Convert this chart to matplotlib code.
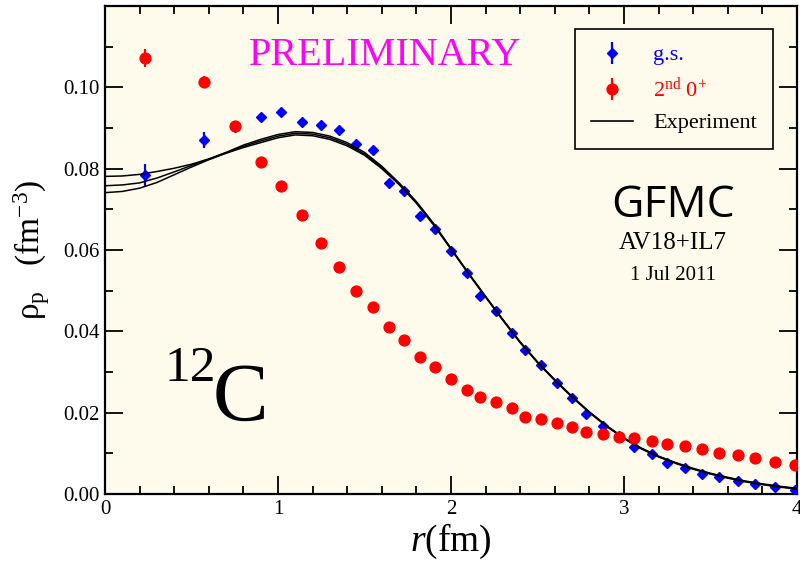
import matplotlib
matplotlib.use("Agg")
import matplotlib.pyplot as plt
from matplotlib.ticker import MultipleLocator, FormatStrFormatter
from matplotlib.lines import Line2D

plt.rcParams['font.family'] = ['Liberation Serif', 'DejaVu Serif']
plt.rcParams['mathtext.fontset'] = 'custom'
plt.rcParams['mathtext.rm'] = 'Liberation Serif'
plt.rcParams['mathtext.it'] = 'Liberation Serif:italic'

# ---- data ----
r_calc = [0.23, 0.57, 0.75, 0.90, 1.02, 1.14, 1.25, 1.35, 1.45, 1.55, 1.64, 1.73,
          1.82, 1.91, 2.00, 2.09, 2.17, 2.26, 2.35, 2.43, 2.52, 2.61, 2.70, 2.78,
          2.88, 2.97, 3.06, 3.16, 3.25, 3.35, 3.45, 3.55, 3.66, 3.76, 3.87, 3.99]
rho_gs = [0.0785, 0.0870, 0.0903, 0.0927, 0.0940, 0.0915, 0.0908, 0.0895, 0.0861,
          0.0846, 0.0764, 0.0744, 0.0683, 0.0651, 0.0597, 0.0543, 0.0486, 0.0451,
          0.0397, 0.0353, 0.0316, 0.0274, 0.0235, 0.0197, 0.0167, 0.0143, 0.0115,
          0.0098, 0.0077, 0.0064, 0.0049, 0.0041, 0.0031, 0.0024, 0.0016, 0.0011]
err_gs = [0.0027, 0.0020, 0.0008, 0.0007, 0.0006, 0.0006, 0.0005, 0.0005, 0.0005,
          0.0005, 0.0004, 0.0004, 0.0004, 0.0004, 0.0003, 0.0003, 0.0003, 0.0003,
          0.0003, 0.0003, 0.0002, 0.0002, 0.0002, 0.0002, 0.0002, 0.0002, 0.0002,
          0.0002, 0.0001, 0.0001, 0.0001, 0.0001, 0.0001, 0.0001, 0.0001, 0.0001]
rho_02 = [0.1073, 0.1014, 0.0905, 0.0816, 0.0757, 0.0685, 0.0616, 0.0559, 0.0498,
          0.0461, 0.0411, 0.0379, 0.0337, 0.0313, 0.0283, 0.0256, 0.0239, 0.0226,
          0.0211, 0.0189, 0.0184, 0.0174, 0.0164, 0.0152, 0.0147, 0.0140, 0.0137,
          0.0130, 0.0122, 0.0117, 0.0110, 0.0100, 0.0095, 0.0088, 0.0078, 0.0071]
err_02 = [0.0022, 0.0015, 0.0008, 0.0007, 0.0006, 0.0006, 0.0005, 0.0005, 0.0005,
          0.0005, 0.0004, 0.0004, 0.0004, 0.0004, 0.0003, 0.0003, 0.0003, 0.0003,
          0.0003, 0.0003, 0.0002, 0.0002, 0.0002, 0.0002, 0.0002, 0.0002, 0.0002,
          0.0002, 0.0001, 0.0001, 0.0001, 0.0001, 0.0001, 0.0001, 0.0001, 0.0001]

r_exp = [0.0, 0.1, 0.2, 0.3, 0.4, 0.5, 0.6, 0.7, 0.8, 0.9, 1.0, 1.1, 1.2, 1.3, 1.4,
         1.5, 1.6, 1.7, 1.8, 1.9, 2.0, 2.1, 2.2, 2.3, 2.4, 2.5, 2.6, 2.7, 2.8, 2.9,
         3.0, 3.1, 3.2, 3.3, 3.4, 3.5, 3.6, 3.7, 3.8, 3.9, 4.0]
rho_exp_hi = [0.0781, 0.0782, 0.0786, 0.0793, 0.0801, 0.0811, 0.0824, 0.0840, 0.0858,
              0.0872, 0.0884, 0.0891, 0.0889, 0.0880, 0.0864, 0.0840, 0.0806, 0.0765,
              0.0719, 0.0665, 0.0604, 0.0544, 0.0486, 0.0429, 0.0374, 0.0325, 0.0281,
              0.0240, 0.0202, 0.0168, 0.0138, 0.0113, 0.0093, 0.0077, 0.0063, 0.0051,
              0.0041, 0.0032, 0.0025, 0.0019, 0.0014]
rho_exp_mid = [0.0758, 0.0760, 0.0765, 0.0777, 0.0792, 0.0808, 0.0823, 0.0839, 0.0855,
               0.0868, 0.0880, 0.0887, 0.0885, 0.0876, 0.0860, 0.0836, 0.0803, 0.0763,
               0.0717, 0.0663, 0.0603, 0.0543, 0.0485, 0.0428, 0.0373, 0.0324, 0.0280,
               0.0239, 0.0201, 0.0167, 0.0137, 0.0112, 0.0092, 0.0076, 0.0062, 0.0050,
               0.0040, 0.0031, 0.0024, 0.0018, 0.0013]
rho_exp_lo = [0.0741, 0.0744, 0.0752, 0.0766, 0.0785, 0.0804, 0.0822, 0.0838, 0.0852,
              0.0864, 0.0876, 0.0883, 0.0881, 0.0872, 0.0856, 0.0833, 0.0800, 0.0761,
              0.0715, 0.0661, 0.0602, 0.0542, 0.0484, 0.0427, 0.0372, 0.0323, 0.0279,
              0.0238, 0.0200, 0.0166, 0.0136, 0.0111, 0.0091, 0.0075, 0.0061, 0.0049,
              0.0039, 0.0030, 0.0023, 0.0017, 0.0012]

x_ticks = [0, 1, 2, 3, 4]
y_ticks = [0.00, 0.02, 0.04, 0.06, 0.08, 0.10]

# ---- figure ----
fig = plt.figure(figsize=(8.0, 5.69), dpi=100)
fig.patch.set_facecolor('white')
ax = fig.add_axes([105 / 800, 75 / 569, 692 / 800, 488 / 569])
ax.set_facecolor('#fffbec')

gs = ax.errorbar(r_calc, rho_gs, yerr=err_gs, fmt='D', color='#0000ff', ms=5.4,
                 elinewidth=1.6, capsize=0, zorder=3)
for rr in (rho_exp_hi, rho_exp_mid, rho_exp_lo):
    ax.plot(r_exp, rr, color='black', lw=1.1, zorder=4)
st = ax.errorbar(r_calc, rho_02, yerr=err_02, fmt='o', color='#ff0000', ms=7.8,
                 elinewidth=1.6, capsize=0, zorder=5)

ax.set_xlim(0, 4)
ax.set_ylim(0, 0.12)
ax.set_xticks(x_ticks)
ax.set_yticks(y_ticks)
ax.xaxis.set_minor_locator(MultipleLocator(0.2))
ax.yaxis.set_minor_locator(MultipleLocator(0.01))
ax.yaxis.set_major_formatter(FormatStrFormatter('%.2f'))
ax.xaxis.set_major_formatter(FormatStrFormatter('%d'))
ax.tick_params(which='both', direction='in', top=True, right=True, labelsize=15,
               width=1.3)
ax.tick_params(which='major', length=13, pad=4)
ax.tick_params(which='minor', length=6)
for s in ax.spines.values():
    s.set_linewidth(1.6)

ax.set_xlabel('$\\it{r}$(fm)', fontsize=27, labelpad=2)
ax.set_ylabel('ρ$_{\\rm p}$   (fm$^{-3}$)', fontsize=24, labelpad=8)

# legend
h_exp = Line2D([], [], color='black', lw=1.2)
leg = ax.legend([gs, st, h_exp], ['g.s.', '2$^{\\rm nd}$ 0$^{+}$', 'Experiment'],
                loc='upper right', bbox_to_anchor=(0.965, 0.953), fontsize=16,
                labelcolor=['#0000ff', '#ff0000', 'black'], frameon=True,
                fancybox=False, edgecolor='black', facecolor='#fffbec', framealpha=1,
                handlelength=1.9, handletextpad=0.9, borderpad=0.72, labelspacing=0.5,
                borderaxespad=0.0)
leg.get_frame().set_linewidth(1.2)

# annotations
ax.text(0.405, 0.879, 'PRELIMINARY', transform=ax.transAxes, color='#ff00ff',
        fontsize=29, ha='center', va='baseline')
ax.text(0.821, 0.568, 'GFMC', transform=ax.transAxes, fontsize=32,
        family='Open Sans', ha='center', va='baseline')
ax.text(0.821, 0.502, 'AV18+IL7', transform=ax.transAxes, fontsize=18,
        ha='center', va='baseline')
ax.text(0.821, 0.4385, '1 Jul 2011', transform=ax.transAxes, fontsize=15,
        ha='center', va='baseline')
ax.text(0.0867, 0.2316, '12', transform=ax.transAxes, fontsize=37,
        ha='left', va='baseline')
ax.text(0.156, 0.152, 'C', transform=ax.transAxes, fontsize=60,
        ha='left', va='baseline')

fig.savefig('out.png', dpi=100)
